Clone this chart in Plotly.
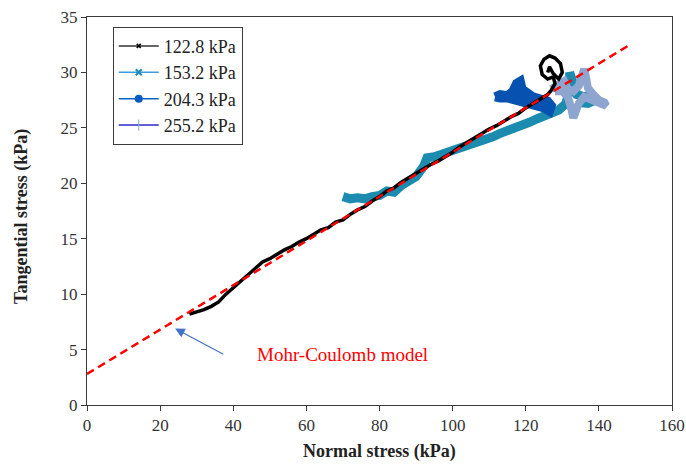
import plotly.graph_objects as go

# ---- data ----
s1228_x = [28, 30, 32, 34, 36, 38, 40, 42, 44, 46, 48, 50, 52, 54, 56, 58, 60, 62, 64, 66, 68, 70,
           72, 74, 76, 78, 80, 82, 84, 86, 88, 90, 92, 94, 96, 98, 100, 102, 104, 106, 108, 110,
           112, 114, 116, 118, 120, 122, 124, 126, 127, 128, 127.5, 126, 124.5, 124, 125, 126.5,
           128, 129.5, 130, 129, 127.5, 126.5, 126]
s1228_y = [8.2, 8.4, 8.6, 8.9, 9.3, 10.0, 10.6, 11.2, 11.8, 12.4, 12.9, 13.2, 13.6, 14.0, 14.3, 14.7,
           15.0, 15.4, 15.8, 16.0, 16.5, 16.7, 17.2, 17.6, 17.9, 18.4, 18.8, 19.3, 19.6, 20.1, 20.5,
           20.9, 21.3, 21.7, 22.0, 22.4, 22.8, 23.3, 23.7, 24.1, 24.5, 24.9, 25.2, 25.6, 26.0, 26.3,
           26.8, 27.2, 27.6, 28.0, 28.4, 29.0, 29.6, 29.4, 29.8, 30.6, 31.2, 31.5, 31.3, 30.8, 30.0,
           29.4, 29.9, 30.5, 30.0]

s1532_x = [70, 72, 74, 76, 78, 80, 82, 84, 86, 88, 90, 92, 93, 95, 97, 99, 101, 103, 105, 107, 109,
           111, 113, 115, 117, 119, 121, 123, 125, 127, 129, 131, 132, 132, 133, 134, 136, 138, 139,
           137, 134]
s1532_y = [18.8, 18.6, 18.7, 18.6, 18.8, 18.9, 19.3, 19.2, 19.8, 20.3, 20.6, 21.5, 22.3, 22.4, 22.6,
           22.8, 23.0, 23.3, 23.6, 23.8, 24.0, 24.2, 24.5, 24.7, 25.0, 25.2, 25.5, 25.8, 26.0, 26.3,
           26.6, 27.2, 28.5, 30.0, 29.0, 28.0, 27.8, 28.0, 27.5, 27.2, 27.3]

s2043_x = [111.6, 113, 115, 116.5, 117.5, 118.5, 119, 120, 121, 122, 124, 126, 127, 126.5, 125, 123,
           121, 119, 117, 115, 113, 111.6]
s2043_y = [27.8, 28.0, 27.9, 28.3, 29.0, 29.2, 28.5, 28.2, 28.0, 27.8, 27.6, 27.4, 27.0, 26.5, 26.8,
           27.0, 27.3, 27.5, 27.6, 27.7, 27.7, 27.8]

s2552_x = [127, 129, 130.5, 131.5, 133, 134.5, 135.5, 136, 136.5, 137, 138.5, 140, 141.5, 142, 140.5,
           138, 136, 134.5, 133.5, 133, 132.5, 131.5, 130, 128]
s2552_y = [28.5, 28.8, 29.2, 28.5, 28.3, 28.8, 29.8, 30.3, 29.5, 28.6, 28.0, 27.5, 27.3, 27.0, 27.2,
           27.5, 27.8, 27.2, 26.5, 25.9, 26.7, 27.8, 28.3, 28.3]

series_names = ["122.8 kPa", "153.2 kPa", "204.3 kPa", "255.2 kPa"]

mc_intercept = 2.8
mc_slope = 0.2
mc_x = [0, 148]
mc_y = [mc_intercept + mc_slope * v for v in mc_x]

x_ticks = [0, 20, 40, 60, 80, 100, 120, 140, 160]
y_ticks = [0, 5, 10, 15, 20, 25, 30, 35]

FONT = "Liberation Serif"
C_TEAL = "#1b8bb0"
C_BLUE = "#0752b0"
C_LIGHT = "#8ea6cf"

fig = go.Figure()

# data traces (no legend)
fig.add_trace(go.Scatter(x=s1532_x, y=s1532_y, mode="lines", showlegend=False,
                         line=dict(color=C_TEAL, width=9), hoverinfo="skip"))
fig.add_trace(go.Scatter(x=s2043_x, y=s2043_y, mode="lines", showlegend=False, fill="toself",
                         fillcolor=C_BLUE, line=dict(color=C_BLUE, width=9), hoverinfo="skip"))
fig.add_trace(go.Scatter(x=s2552_x, y=s2552_y, mode="lines", showlegend=False,
                         line=dict(color=C_LIGHT, width=8), hoverinfo="skip"))
fig.add_trace(go.Scatter(x=s1228_x, y=s1228_y, mode="lines", showlegend=False,
                         line=dict(color="black", width=3.5), hoverinfo="skip"))

# Mohr-Coulomb line
fig.add_trace(go.Scatter(x=mc_x, y=mc_y, mode="lines", showlegend=False,
                         line=dict(color="#ff0000", width=2.5, dash="8px,5px"), hoverinfo="skip"))

# legend-only traces
fig.add_trace(go.Scatter(x=[None], y=[None], mode="lines+markers", name=series_names[0],
                         line=dict(color="#333333", width=1.5),
                         marker=dict(symbol="x-thin", size=4, color="black", line=dict(width=1.5, color="black"))))
fig.add_trace(go.Scatter(x=[None], y=[None], mode="lines+markers", name=series_names[1],
                         line=dict(color="#3d9be0", width=1.5),
                         marker=dict(symbol="x-thin", size=6, color=C_TEAL, line=dict(width=2, color=C_TEAL))))
fig.add_trace(go.Scatter(x=[None], y=[None], mode="lines+markers", name=series_names[2],
                         line=dict(color="#0a64c8", width=1.5),
                         marker=dict(symbol="circle", size=8, color="#0a5cc0")))
fig.add_trace(go.Scatter(x=[None], y=[None], mode="lines+markers", name=series_names[3],
                         line=dict(color="#2a2ad0", width=1.5),
                         marker=dict(symbol="line-ns", size=8, color=C_LIGHT, line=dict(width=1, color=C_LIGHT))))

fig.add_annotation(x=24.1, y=6.9, ax=37.7, ay=4.5, xref="x", yref="y", axref="x", ayref="y",
                   text="", showarrow=True, arrowhead=2, arrowsize=1.6, arrowwidth=1.2,
                   arrowcolor="#4472c4")
fig.add_annotation(x=70.0, y=4.6, xref="x", yref="y", text="Mohr-Coulomb model", showarrow=False,
                   font=dict(family=FONT, size=19, color="#ff0000"))

# axis titles as annotations for exact placement
fig.add_annotation(x=0.5, y=-0.121, xref="paper", yref="paper", text="<b>Normal stress (kPa)</b>",
                   showarrow=False, xanchor="center", yanchor="middle",
                   font=dict(family=FONT, size=18, color="#222222"))
fig.add_annotation(x=-0.111, y=0.485, xref="paper", yref="paper", text="<b>Tangential stress (kPa)</b>",
                   showarrow=False, xanchor="center", yanchor="middle", textangle=-90,
                   font=dict(family=FONT, size=18, color="#222222"))

axis_common = dict(showline=True, linecolor="#3a3a3a", linewidth=1, mirror=True, ticks="outside",
                   ticklen=5, tickcolor="#3a3a3a", showgrid=False, zeroline=False, automargin=False,
                   tickfont=dict(family=FONT, size=17, color="#333333"))

fig.update_layout(
    width=686, height=466,
    margin=dict(l=87, r=14, t=17, b=61),
    paper_bgcolor="white", plot_bgcolor="white",
    font=dict(family=FONT, color="#222222"),
    xaxis=dict(range=[0, 160], tickvals=x_ticks, **axis_common),
    yaxis=dict(range=[0, 35], tickvals=y_ticks, **axis_common),
    legend=dict(x=0.044, y=0.975, xanchor="left", yanchor="top", bgcolor="white",
                bordercolor="#3a3a3a", borderwidth=1, font=dict(family=FONT, size=18, color="#222222"),
                itemwidth=40, tracegroupgap=0),
)

fig.write_html("out.html")
